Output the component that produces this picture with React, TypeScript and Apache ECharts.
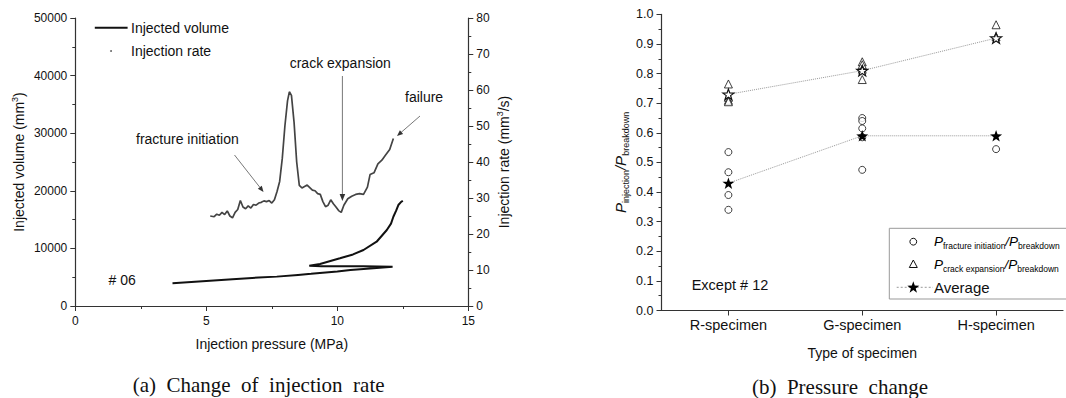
import React, { useEffect, useRef } from "react";
import * as echarts from "echarts";

// ---- (a) Injected volume vs injection pressure ----
const volPressure = [3.71, 5.0, 6.0, 7.0, 7.69, 8.5, 9.0, 10.0, 10.5, 11.0, 11.5, 12.11, 12.1, 11.0, 10.0, 9.4, 8.93, 9.34, 10.1, 10.6, 11.0, 11.5, 11.89, 12.05, 12.14, 12.25, 12.33, 12.42, 12.5];
const volValues = [3950, 4350, 4650, 4950, 5100, 5400, 5580, 6000, 6230, 6420, 6600, 6830, 6880, 6890, 6900, 6920, 6990, 7290, 8280, 8950, 9720, 11160, 13190, 14300, 15500, 16600, 17530, 18000, 18280];

// ---- (a) Injection rate vs injection pressure ----
const ratePressure = [5.15, 5.3, 5.4, 5.5, 5.6, 5.7, 5.8, 5.9, 6.0, 6.1, 6.2, 6.3, 6.4, 6.5, 6.6, 6.7, 6.8, 6.9, 7.0, 7.1, 7.2, 7.3, 7.4, 7.5, 7.6, 7.7, 7.8, 7.9, 8.0, 8.1, 8.17, 8.25, 8.35, 8.45, 8.55, 8.65, 8.75, 8.85, 8.95, 9.05, 9.15, 9.25, 9.35, 9.45, 9.55, 9.65, 9.75, 9.85, 9.95, 10.05, 10.15, 10.25, 10.4, 10.55, 10.7, 10.85, 11.0, 11.15, 11.25, 11.4, 11.55, 11.7, 11.85, 12.0, 12.14];
const rateValues = [25.0, 24.8, 25.5, 25.2, 26.0, 25.4, 26.4, 25.0, 24.5, 26.0, 26.8, 29.3, 27.5, 27.0, 27.8, 27.2, 28.2, 28.0, 28.6, 28.8, 29.2, 29.0, 29.3, 28.6, 29.5, 31.8, 34.6, 41.0, 50.0, 57.0, 59.5, 58.5, 51.0, 40.0, 33.5, 32.8, 33.2, 33.6, 32.9, 32.2, 32.0, 31.2, 31.0, 29.0, 27.6, 28.0, 29.5, 28.4, 27.5, 26.5, 26.0, 28.0, 29.8, 30.5, 31.0, 31.2, 31.0, 33.0, 36.5, 37.0, 39.5, 40.5, 42.0, 43.5, 46.5];

// ---- (b) Pressure change ----
const specimenTypes = ["R-specimen", "G-specimen", "H-specimen"];
const fractureIdx = [0, 0, 0, 0, 1, 1, 1, 1, 1, 2];
const fractureRatio = [0.535, 0.467, 0.39, 0.34, 0.65, 0.64, 0.615, 0.585, 0.475, 0.545];
const crackIdx = [0, 0, 0, 0, 1, 1, 1, 1, 2, 2];
const crackRatio = [0.765, 0.72, 0.71, 0.705, 0.84, 0.83, 0.815, 0.78, 0.965, 0.925];
const avgCrack = [0.73, 0.81, 0.92];
const avgFracture = [0.43, 0.59, 0.59];

const FONT = "'Liberation Sans', Arial, sans-serif";
const SERIF = "'Liberation Serif', 'Times New Roman', serif";
const STAR = "path://M0,-10 L2.35,-3.24 L9.51,-3.09 L3.8,1.24 L5.88,8.09 L0,4 L-5.88,8.09 L-3.8,1.24 L-9.51,-3.09 L-2.35,-3.24 Z";

function starPoints(cx: number, cy: number, r: number) {
  const pts: number[][] = [];
  for (let i = 0; i < 10; i++) {
    const a = -Math.PI / 2 + (i * Math.PI) / 5;
    const rr = i % 2 === 0 ? r : r * 0.4;
    pts.push([cx + rr * Math.cos(a), cy + rr * Math.sin(a)]);
  }
  return pts;
}

const axisCommon = {
  axisLine: { show: true, lineStyle: { color: "#333", width: 1.2 } },
  axisTick: { show: true, inside: false, length: 5, lineStyle: { color: "#333" } },
  axisLabel: { color: "#111", fontSize: 12, fontFamily: FONT, formatter: (v: number) => String(v) },
  splitLine: { show: false },
  nameTextStyle: { color: "#111", fontSize: 14, fontFamily: FONT },
};
const minor = { show: true, splitNumber: 2, length: 3, lineStyle: { color: "#333" } };

const axisRich = {
  p: { fontSize: 15, fontStyle: "italic", fontFamily: FONT, color: "#111", lineHeight: 20 },
  s: { fontSize: 9, fontFamily: FONT, color: "#111", lineHeight: 20, verticalAlign: "bottom" },
};
const legendRich = {
  p: { fontSize: 13.5, fontStyle: "italic", fontFamily: FONT, color: "#111", lineHeight: 18 },
  s: { fontSize: 8.5, fontFamily: FONT, color: "#111", lineHeight: 18, verticalAlign: "bottom" },
};

export default function App() {
  const ref = useRef<HTMLDivElement>(null);
  useEffect(() => {
    if (!ref.current) return;
    const chart = echarts.init(ref.current, undefined, { renderer: "svg" });
    const volData = volPressure.map((p, i) => [p, volValues[i]]);
    const rateData = ratePressure.map((p, i) => [p, rateValues[i]]);
    const fracData = fractureIdx.map((c, i) => [c, fractureRatio[i]]);
    const crackData = crackIdx.map((c, i) => [c, crackRatio[i]]);

    const txt = (x: number, y: number, text: string, size = 14, extra: any = {}) => ({
      type: "text",
      x,
      y,
      style: { text, fontSize: size, fontFamily: FONT, fill: "#111", verticalAlign: "middle", align: "left", ...extra },
    });
    const ln = (x1: number, y1: number, x2: number, y2: number, extra: any = {}) => ({
      type: "line",
      shape: { x1, y1, x2, y2 },
      style: { stroke: "#555", lineWidth: 0.8, ...extra },
    });
    const head = (pts: number[][]) => ({ type: "polygon", shape: { points: pts }, style: { fill: "#333" } });

    chart.setOption({
      animation: false,
      grid: [
        { left: 75.3, top: 18, width: 393, height: 288 },
        { left: 661.5, top: 14.4, width: 401.5, height: 296.1 },
      ],
      xAxis: [
        {
          ...axisCommon,
          gridIndex: 0,
          type: "value",
          min: 0,
          max: 15,
          interval: 5,
          minorTick: minor,
          axisLabel: { ...axisCommon.axisLabel, margin: 9 },
          name: "Injection pressure (MPa)",
          nameLocation: "middle",
          nameGap: 31,
        },
        {
          ...axisCommon,
          gridIndex: 1,
          type: "category",
          data: specimenTypes,
          boundaryGap: true,
          axisTick: { ...axisCommon.axisTick, alignWithLabel: true },
          axisLabel: { color: "#111", fontFamily: FONT, fontSize: 14.5, margin: 7 },
          name: "Type of specimen",
          nameLocation: "middle",
          nameGap: 35,
        },
      ],
      yAxis: [
        {
          ...axisCommon,
          gridIndex: 0,
          type: "value",
          min: 0,
          max: 50000,
          interval: 10000,
          minorTick: minor,
          name: "{a|Injected volume (mm}{b|3}{a|)}",
          nameLocation: "middle",
          nameRotate: 90,
          nameGap: 47,
          nameTextStyle: {
            rich: {
              a: { fontSize: 14, fontFamily: FONT, color: "#111", lineHeight: 18 },
              b: { fontSize: 9, fontFamily: FONT, color: "#111", lineHeight: 18, verticalAlign: "top" },
            },
          },
        },
        {
          ...axisCommon,
          gridIndex: 0,
          type: "value",
          position: "right",
          min: 0,
          max: 80,
          interval: 10,
          minorTick: minor,
          name: "{a|Injection rate (mm}{b|3}{a|/s)}",
          nameLocation: "middle",
          nameRotate: 90,
          nameGap: 27,
          nameTextStyle: {
            rich: {
              a: { fontSize: 14, fontFamily: FONT, color: "#111", lineHeight: 18 },
              b: { fontSize: 9, fontFamily: FONT, color: "#111", lineHeight: 18, verticalAlign: "top" },
            },
          },
        },
        {
          ...axisCommon,
          gridIndex: 1,
          type: "value",
          min: 0,
          max: 1,
          interval: 0.1,
          minorTick: minor,
          axisLabel: { ...axisCommon.axisLabel, fontSize: 12.5, formatter: (v: number) => v.toFixed(1) },
          name: "{p|P}{s|injection}{p|/P}{s|breakdown}",
          nameLocation: "middle",
          nameRotate: 90,
          nameGap: 31,
          nameTextStyle: { rich: axisRich },
        },
      ],
      series: [
        {
          type: "line",
          name: "Injected volume",
          xAxisIndex: 0,
          yAxisIndex: 0,
          data: volData,
          showSymbol: false,
          lineStyle: { color: "#111", width: 2 },
        },
        {
          type: "line",
          name: "Injection rate",
          xAxisIndex: 0,
          yAxisIndex: 1,
          data: rateData,
          showSymbol: false,
          lineStyle: { color: "#444", width: 1.7 },
        },
        {
          type: "line",
          name: "Average fracture",
          xAxisIndex: 1,
          yAxisIndex: 2,
          data: avgFracture,
          symbol: STAR,
          symbolKeepAspect: true,
          symbolSize: 12,
          itemStyle: { color: "#000" },
          lineStyle: { color: "#999", width: 1, type: "dotted" },
          z: 3,
        },
        {
          type: "scatter",
          name: "fracture",
          xAxisIndex: 1,
          yAxisIndex: 2,
          data: fracData,
          symbol: "circle",
          symbolSize: 7,
          itemStyle: { color: "#fff", borderColor: "#111", borderWidth: 1 },
          z: 2,
        },
        {
          type: "scatter",
          name: "crack",
          xAxisIndex: 1,
          yAxisIndex: 2,
          data: crackData,
          symbol: "triangle",
          symbolSize: 8,
          itemStyle: { color: "#fff", borderColor: "#111", borderWidth: 1 },
          z: 2,
        },
        {
          type: "line",
          name: "Average crack",
          xAxisIndex: 1,
          yAxisIndex: 2,
          data: avgCrack,
          symbol: STAR,
          symbolKeepAspect: true,
          symbolSize: 11,
          itemStyle: { color: "#fff", borderColor: "#111", borderWidth: 1.2 },
          lineStyle: { color: "#999", width: 1, type: "dotted" },
          z: 3,
        },
      ],
      graphic: [
        // (a) legend
        ln(94.8, 27.7, 127.6, 27.7, { stroke: "#111", lineWidth: 2 }),
        txt(131, 27.7, "Injected volume"),
        { type: "circle", shape: { cx: 111, cy: 51, r: 0.9 }, style: { fill: "#555" } },
        txt(131, 51, "Injection rate"),
        // (a) annotations
        txt(289.7, 63, "crack expansion"),
        ln(342.4, 76, 342.4, 195),
        head([[339.6, 194], [345.2, 194], [342.4, 201]]),
        txt(405, 97, "failure"),
        ln(420, 116, 401, 132.5),
        head([[403.1, 134.0], [399.9, 130.2], [397, 136]]),
        txt(136, 139, "fracture initiation"),
        ln(234.5, 155, 260, 187.5),
        head([[257.8, 188.8], [261.8, 185.8], [263.5, 192]]),
        txt(108.6, 280, "# 06"),
        // (b) texts
        txt(691.7, 285, "Except # 12", 14.5),
        {
          type: "rect",
          shape: { x: 889.3, y: 228.3, width: 190, height: 70.7 },
          style: { fill: "#fff", stroke: "#999", lineWidth: 1 },
          z: 10,
        },
        { type: "circle", shape: { cx: 913.3, cy: 241.7, r: 3.4 }, style: { fill: "#fff", stroke: "#111", lineWidth: 1 }, z: 11 },
        {
          type: "text",
          x: 934,
          y: 241.7,
          z: 11,
          style: { text: "{p|P}{s|fracture initiation}{p|/P}{s|breakdown}", rich: legendRich, verticalAlign: "middle" },
        },
        { type: "polygon", shape: { points: [[913.3, 260], [909.3, 267.5], [917.3, 267.5]] }, style: { fill: "#fff", stroke: "#111", lineWidth: 1 }, z: 11 },
        {
          type: "text",
          x: 934,
          y: 264,
          z: 11,
          style: { text: "{p|P}{s|crack expansion}{p|/P}{s|breakdown}", rich: legendRich, verticalAlign: "middle" },
        },
        { type: "line", shape: { x1: 896.7, y1: 287.3, x2: 933, y2: 287.3 }, style: { stroke: "#999", lineWidth: 1, lineDash: [2, 2] }, z: 11 },
        { type: "polygon", shape: { points: starPoints(913.3, 287.6, 6.3) }, style: { fill: "#000" }, z: 12 },
        { ...txt(934, 287.3, "Average", 15), z: 11 },
        // captions
        {
          type: "text",
          x: 258.6,
          y: 385,
          style: { text: "(a)  Change  of  injection  rate", fontSize: 21, fontFamily: SERIF, fill: "#111", align: "center", verticalAlign: "middle" },
        },
        {
          type: "text",
          x: 840,
          y: 387,
          style: { text: "(b)  Pressure  change", fontSize: 21, fontFamily: SERIF, fill: "#111", align: "center", verticalAlign: "middle" },
        },
      ],
    });
    return () => chart.dispose();
  }, []);
  return <div ref={ref} style={{ position: "fixed", left: 0, top: 0, width: 1066, height: 398, background: "#fff" }} />;
}
